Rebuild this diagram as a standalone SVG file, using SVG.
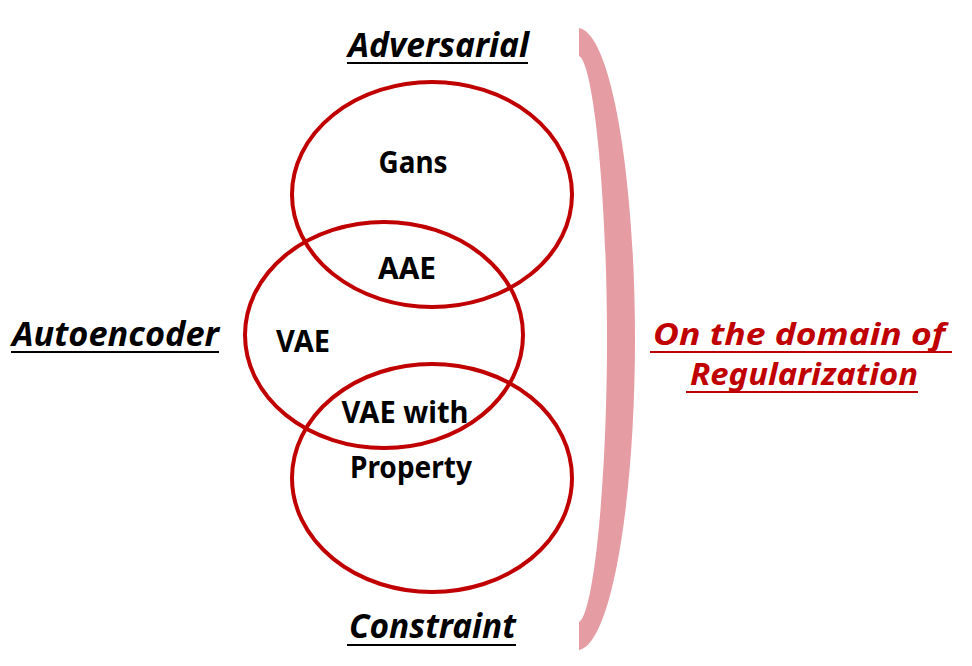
<svg xmlns="http://www.w3.org/2000/svg" width="972" height="666" viewBox="0 0 972 666">
<style>
.ell{fill:none;stroke:#C00000;stroke-width:4}
.lbl{font-family:"Noto Sans","Open Sans",sans-serif;font-weight:bold;font-size:30px;fill:#000;text-anchor:middle}
.ttl{font-family:"Noto Sans","Open Sans",sans-serif;font-weight:bold;font-style:italic;font-size:34px;fill:#000}
.red{fill:#C00000;font-size:30px}
.ul{stroke:#000;stroke-width:2}
.ulr{stroke:#C00000;stroke-width:2}
</style>
<rect width="972" height="666" fill="#fff"/>
<g id="bracket">
<path d="M579,28 C612,34 635,180 635,339 C635,498 612,644 579,650 L579,622 C593,616 607,488 607,339 C607,190 593,62 579,56 Z" fill="#E59CA2"/>
</g>
<g id="connectors"></g>
<g id="adversarial-set">
<ellipse class="ell" cx="432" cy="194.5" rx="140" ry="112.5"/>
<text class="lbl" x="413" y="173" textLength="69" lengthAdjust="spacingAndGlyphs">Gans</text>
</g>
<g id="autoencoder-set">
<ellipse class="ell" cx="384" cy="335" rx="139" ry="113"/>
<text class="lbl" x="303" y="352" textLength="54" lengthAdjust="spacingAndGlyphs">VAE</text>
</g>
<g id="constraint-set">
<ellipse class="ell" cx="432" cy="478" rx="140" ry="114"/>
</g>
<g id="aae">
<text class="lbl" x="407" y="279" textLength="58" lengthAdjust="spacingAndGlyphs">AAE</text>
</g>
<g id="vae-with-property">
<text class="lbl" x="405" y="423" textLength="127" lengthAdjust="spacingAndGlyphs">VAE with</text>
<text class="lbl" x="411" y="478" textLength="122" lengthAdjust="spacingAndGlyphs">Property</text>
</g>
<g id="title-adversarial">
<text class="ttl" x="348" y="57" textLength="181" lengthAdjust="spacingAndGlyphs">Adversarial</text>
<line class="ul" x1="347" y1="63" x2="528" y2="63"/>
</g>
<g id="title-autoencoder">
<text class="ttl" x="12" y="346" textLength="207" lengthAdjust="spacingAndGlyphs">Autoencoder</text>
<line class="ul" x1="11" y1="352" x2="219" y2="352"/>
</g>
<g id="title-constraint">
<text class="ttl" x="349" y="638" textLength="167" lengthAdjust="spacingAndGlyphs">Constraint</text>
<line class="ul" x1="347" y1="645" x2="516" y2="645"/>
</g>
<g id="title-regularization">
<text class="ttl red" x="653" y="345" textLength="292" lengthAdjust="spacingAndGlyphs">On the domain of</text>
<line class="ulr" x1="650" y1="352" x2="952" y2="352"/>
<text class="ttl red" x="690" y="385" textLength="228" lengthAdjust="spacingAndGlyphs">Regularization</text>
<line class="ulr" x1="686" y1="392" x2="918" y2="392"/>
</g>
</svg>
